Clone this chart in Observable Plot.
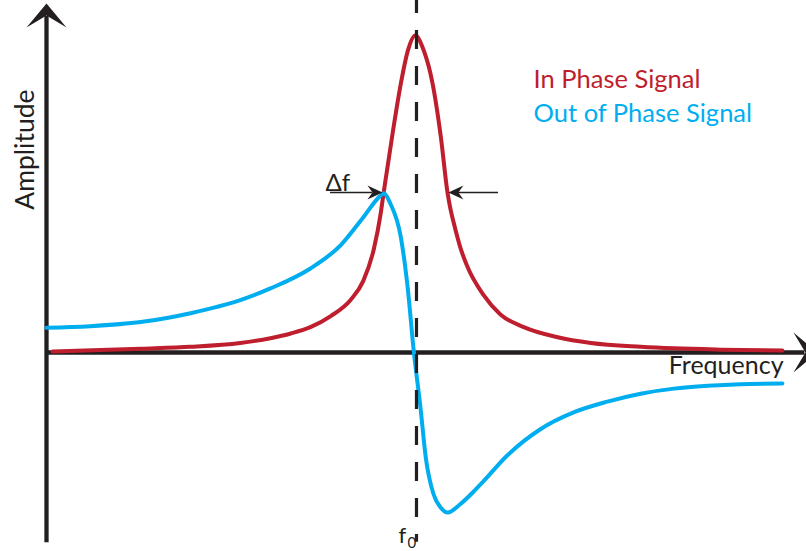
<!DOCTYPE html>
<html>
<head>
<meta charset="utf-8">
<script src="https://cdn.jsdelivr.net/npm/d3@7"></script>
<script src="https://cdn.jsdelivr.net/npm/@observablehq/plot@0.6"></script>
<style>
  html, body { margin: 0; padding: 0; background: #fff; overflow: hidden; }
</style>
</head>
<body>
<div id="chart"></div>
<script>
// In-phase (absorption) signal
const freqIn = [0.8, 12.5, 19.1, 25.7, 29.7, 32.4, 35.0, 37.7, 40.3, 42.0, 43.4, 44.3, 44.7, 45.9, 47.0, 47.9, 48.9, 50.0, 51.2, 52.3, 53.2, 53.6, 54.0, 54.9, 55.8, 58.0, 60.2, 63.3, 67.8, 72.2, 78.8, 83.2, 89.4, 97.6];
const ampIn  = [0.003, 0.012, 0.018, 0.030, 0.045, 0.060, 0.080, 0.115, 0.165, 0.225, 0.325, 0.435, 0.502, 0.691, 0.849, 0.950, 1.0, 0.955, 0.849, 0.680, 0.502, 0.450, 0.410, 0.330, 0.272, 0.180, 0.120, 0.080, 0.048, 0.030, 0.018, 0.013, 0.009, 0.006];

// Out-of-phase (dispersion) signal
const freqOut = [0, 5.8, 12.5, 19.1, 25.7, 29.7, 35.0, 39.0, 42.0, 44.3, 44.7, 45.6, 47.0, 47.9, 48.7, 49.6, 50.3, 51.3, 52.3, 53.2, 54.9, 56.6, 58.0, 61.1, 65.5, 69.9, 74.4, 78.8, 83.2, 87.7, 92.0, 97.6];
const ampOut  = [0.078, 0.083, 0.096, 0.124, 0.165, 0.202, 0.265, 0.338, 0.426, 0.495, 0.502, 0.470, 0.363, 0.205, 0.006, -0.174, -0.331, -0.445, -0.490, -0.505, -0.478, -0.440, -0.405, -0.325, -0.242, -0.189, -0.155, -0.130, -0.114, -0.105, -0.100, -0.098];

// Key frequencies / levels
const f0 = 49.07;
const halfLevel = 0.505;
const deltaLeft = 44.56, deltaRight = 53.3;

// Labels
const seriesNames = ["In Phase Signal", "Out of Phase Signal"];
const seriesColors = ["#be1e2d", "#00aeef"];
const axisLabels = {x: "Frequency", y: "Amplitude"};

const ink = "#231f20";

const inPhase = freqIn.map((f, i) => ({f, a: ampIn[i]}));
const outPhase = freqOut.map((f, i) => ({f, a: ampOut[i]}));

function head(len, half, notch, dx, dy) {
  return {
    draw(ctx) {
      const px = -dy, py = dx;
      ctx.moveTo(0, 0);
      ctx.lineTo(-dx * len + px * half, -dy * len + py * half);
      ctx.lineTo(-dx * notch, -dy * notch);
      ctx.lineTo(-dx * len - px * half, -dy * len - py * half);
      ctx.closePath();
    }
  };
}

const chart = Plot.plot({
  width: 806,
  height: 551,
  marginLeft: 46,
  marginRight: 6,
  marginTop: 0,
  marginBottom: 2,
  x: {domain: [0, 100], axis: null},
  y: {domain: [-0.6215, 1.1104], axis: null},
  style: {fontFamily: "Lato, 'Open Sans', sans-serif", background: "#fff", color: ink},
  marks: [
    // axes
    Plot.ruleX([0], {y1: -0.6, y2: 1.06, stroke: ink, strokeWidth: 4.3}),
    Plot.ruleY([0], {x1: 0, x2: 100.6, stroke: ink, strokeWidth: 4.3}),
    Plot.dot([{f: 0, a: 1.1009}], {x: "f", y: "a", r: 1, symbol: head(24, 20, 12, 0, -1), fill: ink, stroke: "none"}),
    Plot.dot([{f: 102.25, a: 0}], {x: "f", y: "a", r: 1, symbol: head(24, 20, 12, 1, 0), fill: ink, stroke: "none"}),
    // curves
    Plot.line(inPhase, {x: "f", y: "a", stroke: seriesColors[0], strokeWidth: 4, curve: "monotone-x", strokeLinejoin: "round"}),
    Plot.line(outPhase, {x: "f", y: "a", stroke: seriesColors[1], strokeWidth: 4, curve: "monotone-x", strokeLinejoin: "round"}),
    // f0 dashed line
    Plot.ruleX([f0], {y1: 1.1104, y2: -0.599, stroke: ink, strokeWidth: 3.2, strokeDasharray: "19,17", strokeDashoffset: 6}),
    // delta f arrows
    Plot.ruleY([halfLevel], {x1: 37.67, x2: deltaLeft - 1.3, stroke: ink, strokeWidth: 1.5}),
    Plot.ruleY([halfLevel], {x1: deltaRight + 1.3, x2: 59.95, stroke: ink, strokeWidth: 1.5}),
    Plot.dot([{f: deltaLeft, a: halfLevel}], {x: "f", y: "a", r: 1, symbol: head(15, 7, 10, 1, 0), fill: ink, stroke: "none"}),
    Plot.dot([{f: deltaRight, a: halfLevel}], {x: "f", y: "a", r: 1, symbol: head(15, 7, 10, -1, 0), fill: ink, stroke: "none"}),
    Plot.text(["Δf"], {x: 37.0, y: 0.511, text: d => d, textAnchor: "start", lineAnchor: "bottom", fontSize: 24, fill: ink}),
    // f0 label
    Plot.text(["f"], {x: 46.68, y: -0.6025, text: d => d, textAnchor: "start", lineAnchor: "bottom", fontSize: 22, fill: ink}),
    Plot.text(["0"], {x: 47.88, y: -0.618, text: d => d, textAnchor: "start", lineAnchor: "bottom", fontSize: 15, fill: ink}),
    // axis labels
    Plot.text([axisLabels.x], {x: 97.75, y: -0.0694, text: d => d, textAnchor: "end", lineAnchor: "bottom", fontSize: 25, fill: ink}),
    Plot.text([axisLabels.y], {x: -1.72, y: 0.64, text: d => d, textAnchor: "middle", lineAnchor: "bottom", rotate: -90, fontSize: 26.5, fill: ink}),
    // legend
    Plot.text([seriesNames[0]], {x: 64.6, y: 0.833, text: d => d, textAnchor: "start", lineAnchor: "bottom", fontSize: 25.5, fill: seriesColors[0]}),
    Plot.text([seriesNames[1]], {x: 64.6, y: 0.7256, text: d => d, textAnchor: "start", lineAnchor: "bottom", fontSize: 25.5, fill: seriesColors[1]})
  ]
});

document.getElementById("chart").appendChild(chart);
</script>
</body>
</html>
